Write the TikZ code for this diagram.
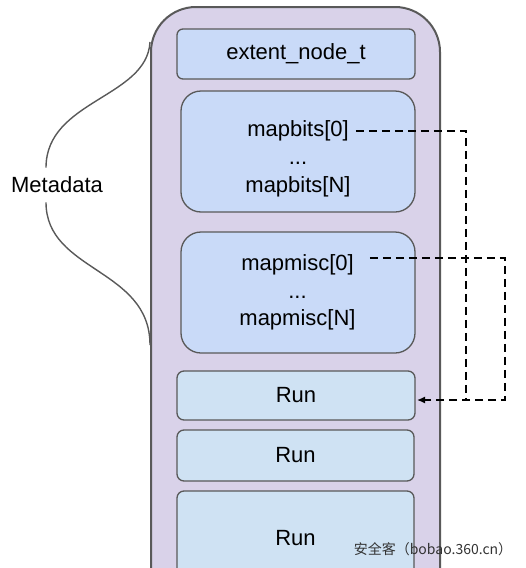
\documentclass[tikz,border=0pt]{standalone}
\usepackage{fontspec}
\usetikzlibrary{arrows.meta}
\setmainfont{Liberation Sans}
\newfontfamily\cjk{Noto Sans CJK SC}
\definecolor{chunkfill}{HTML}{D9D2E9}
\definecolor{metafill}{HTML}{C9DAF8}
\definecolor{runfill}{HTML}{CFE2F3}
\definecolor{edge}{HTML}{595959}

\begin{document}
\begin{tikzpicture}[x=1pt, y=-1pt,
		every node/.style={font=\fontsize{22}{26}\selectfont, inner sep=2pt},
		meta/.style={draw=edge, line width=1.3pt, fill=metafill},
		run/.style={draw=edge, line width=1.3pt, fill=runfill, rounded corners=7pt},
		link/.style={black, line width=1.4pt, dash pattern=on 8pt off 5pt}]
		\useasboundingbox (0, 0) rectangle (526, 568);

		% chunk
		\draw[edge, fill=chunkfill, line width=2pt, rounded corners=45pt]	(151, 7) rectangle (440, 650);

		\node[meta, rounded corners=6pt, minimum width=238pt, minimum height=50pt]	(extent) at (296, 54) {extent\_node\_t};
		\node[meta, rounded corners=20pt, minimum width=234pt, minimum height=121pt]	(bits) at (298, 151.5) {};
		\node[meta, rounded corners=20pt, minimum width=234pt, minimum height=121pt]	(misc) at (298, 292.5) {};

		\node (bits0) at (298, 131) {mapbits[0]};
		\node (bitsdots) at (298, 163) {...};
		\node (bitsN) at (298, 187) {mapbits[N]};
		\node (misc0) at (297.5, 265) {mapmisc[0]};
		\node (miscdots) at (297.5, 297) {...};
		\node (miscN) at (297.5, 320) {mapmisc[N]};

		\node[run, minimum width=238pt, minimum height=49pt]	(run1) at (296, 395.5) {Run};
		\node[run, minimum width=237pt, minimum height=51pt]	(run2) at (295.5, 455.5) {Run};
		\node[run, minimum width=237pt, minimum height=94pt]	(run3) at (295.5, 538) {Run};

		% pointers into the run
		\coordinate (tip) at (417, 400);
		\coordinate (bitsstart) at ([xshift=5pt]bits0.east);
		\coordinate (miscstart) at ([xshift=14pt, yshift=7pt]misc0.east);
		\draw[link]	(bitsstart) -- (466, 131) -- (466, 400);
		\draw[link, -{Latex[length=8pt, width=7pt]}]	(miscstart) -- (505, 258) -- (505, 400) -- (tip);

		% metadata brace
		\node[inner ysep=9pt] (metadata) at (57, 185) {Metadata};
		\coordinate (metatop) at (150, 42);
		\coordinate (metabottom) at (150, 345);
		\draw[edge, line width=1.4pt]	(metatop) .. controls (147, 98) and (46, 100) .. ([xshift=-11pt]metadata.north);
		\draw[edge, line width=1.4pt]	([xshift=-11pt]metadata.south) .. controls (46, 272) and (150, 268) .. (metabottom);

		\node[font=\cjk\fontsize{14}{16}\selectfont, text=black!80] (mark) at (433, 549) {安全客（bobao.360.cn）};
	\end{tikzpicture}
\end{document}
